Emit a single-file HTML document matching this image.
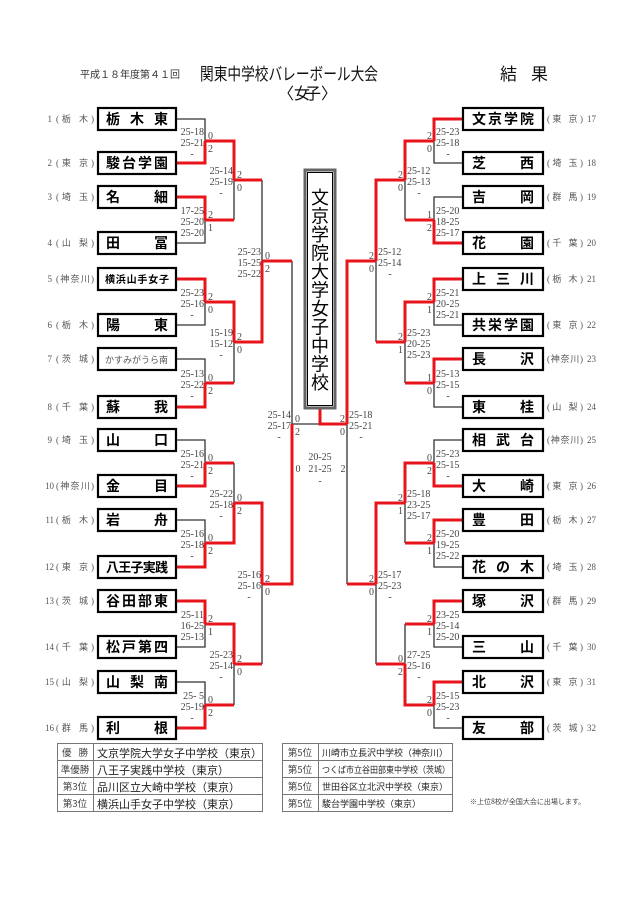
<!DOCTYPE html>
<html><head><meta charset="utf-8"><style>
html,body{margin:0;padding:0;background:#fff;}
svg{display:block;font-family:"Liberation Sans","Noto Sans CJK JP",sans-serif;}
.sc{font-family:"Liberation Serif","Noto Serif CJK SC",serif;font-size:10px;fill:#444;}
.pf{font-size:9px;fill:#555;font-family:"Liberation Serif","Noto Sans CJK JP",serif;}
.nm{font-size:14px;font-weight:bold;fill:#000;font-family:"Noto Sans CJK JP",sans-serif;}
.bx{fill:#fff;stroke:#000;stroke-width:2.2;}
.tb{font-size:11px;fill:#222;font-family:"Noto Sans CJK JP",sans-serif;}
.tl{font-size:9.5px;fill:#444;font-family:"Noto Sans CJK JP",sans-serif;}
</style></head><body>
<svg width="640" height="906" viewBox="0 0 640 906" xmlns="http://www.w3.org/2000/svg">
<rect width="640" height="906" fill="#fff"/>
<!-- header -->
<text x="80" y="78" font-size="10" fill="#333" font-family="Noto Sans CJK JP,sans-serif">平成１８年度第４１回</text>
<text x="200" y="80" font-size="17" fill="#111" font-family="Noto Sans CJK JP,sans-serif" textLength="178" lengthAdjust="spacingAndGlyphs">関東中学校バレーボール大会</text>
<text x="500" y="80" font-size="17" fill="#111" font-family="Noto Sans CJK JP,sans-serif" textLength="48" lengthAdjust="spacing">結果</text>
<text x="278" y="99" font-size="16" fill="#111" font-family="Noto Sans CJK JP,sans-serif">〈女</text>
<text x="305" y="99" font-size="16" fill="#111" font-family="Noto Sans CJK JP,sans-serif">子〉</text>

<!-- lines gray -->
<path fill="none" stroke="#333" stroke-width="1.3" d="M176 119H205V141M176 243H205V220M176 325H205V302M176 359H205V383M176 440H205V463M176 520H205V543M176 647H205V624M176 682H205V705
M234 220V180M234 383V342M234 463V503M234 705V664M262 180V261M262 664V584M292 261V424M292 424H320
M463 163H434V141M463 197H434V220M463 325H434V302M463 407H434V383M463 440H434V463M463 567H434V543M463 647H434V624M463 728H434V705
M405 220V180M405 383V342M405 543V503M405 624V664M376 342V261M376 664V584M347 584V424"/>
<!-- lines red -->
<path fill="none" stroke="#e8141b" stroke-width="3" d="M176 163H205V141M176 197H205V220M176 279H205V302M176 407H205V383M176 486H205V463M176 567H205V543M176 601H205V624M176 728H205V705
M205 141H234V180M205 220H234M205 302H234V342M205 383H234M205 463H234M205 543H234V503M205 624H234V664M205 705H234
M234 180H262M234 342H262V261M234 503H262V584M234 664H262M262 261H292M262 584H292V424
M463 119H434V141M463 243H434V220M463 279H434V302M463 359H434V383M463 486H434V463M463 520H434V543M463 601H434V624M463 682H434V705
M434 141H405V180M434 220H405M434 302H405V342M434 383H405M434 463H405V503M434 543H405M434 624H405M434 705H405V664
M405 180H376V261M405 342H376M405 503H376V584M405 664H376M376 261H347V424M376 584H347M320 408V424H347"/>

<!-- center box -->
<rect x="305" y="170" width="30" height="238" fill="#fff" stroke="#666" stroke-width="3"/>
<rect x="307.5" y="172.5" width="25" height="233" fill="none" stroke="#000" stroke-width="1"/>
<g font-size="18" fill="#000" text-anchor="middle" font-family="Noto Sans CJK JP,sans-serif">
<text x="320" y="204">文</text><text x="320" y="222.5">京</text><text x="320" y="241">学</text><text x="320" y="259.5">院</text><text x="320" y="278">大</text><text x="320" y="296.5">学</text><text x="320" y="315">女</text><text x="320" y="333.5">子</text><text x="320" y="352">中</text><text x="320" y="370.5">学</text><text x="320" y="389">校</text>
</g>

<!-- scores left -->
<g class="sc">
<g transform="translate(205,141)"><text x="-1" y="-6" text-anchor="end">25-18</text><text x="-1" y="5" text-anchor="end">25-21</text><text x="-13" y="16" text-anchor="middle">-</text><text x="3" y="-2">0</text><text x="3" y="11">2</text></g>
<g transform="translate(205,220)"><text x="-1" y="-6" text-anchor="end">17-25</text><text x="-1" y="5" text-anchor="end">25-20</text><text x="-1" y="16" text-anchor="end">25-20</text><text x="3" y="-2">2</text><text x="3" y="11">1</text></g>
<g transform="translate(205,302)"><text x="-1" y="-6" text-anchor="end">25-23</text><text x="-1" y="5" text-anchor="end">25-16</text><text x="-13" y="16" text-anchor="middle">-</text><text x="3" y="-2">2</text><text x="3" y="11">0</text></g>
<g transform="translate(205,383)"><text x="-1" y="-6" text-anchor="end">25-13</text><text x="-1" y="5" text-anchor="end">25-22</text><text x="-13" y="16" text-anchor="middle">-</text><text x="3" y="-2">0</text><text x="3" y="11">2</text></g>
<g transform="translate(205,463)"><text x="-1" y="-6" text-anchor="end">25-16</text><text x="-1" y="5" text-anchor="end">25-21</text><text x="-13" y="16" text-anchor="middle">-</text><text x="3" y="-2">0</text><text x="3" y="11">2</text></g>
<g transform="translate(205,543)"><text x="-1" y="-6" text-anchor="end">25-16</text><text x="-1" y="5" text-anchor="end">25-18</text><text x="-13" y="16" text-anchor="middle">-</text><text x="3" y="-2">0</text><text x="3" y="11">2</text></g>
<g transform="translate(205,624)"><text x="-1" y="-6" text-anchor="end">25-11</text><text x="-1" y="5" text-anchor="end">16-25</text><text x="-1" y="16" text-anchor="end">25-13</text><text x="3" y="-2">2</text><text x="3" y="11">1</text></g>
<g transform="translate(205,705)"><text x="-1" y="-6" text-anchor="end">25- 5</text><text x="-1" y="5" text-anchor="end">25-19</text><text x="-13" y="16" text-anchor="middle">-</text><text x="3" y="-2">0</text><text x="3" y="11">2</text></g>
<g transform="translate(234,180)"><text x="-1" y="-6" text-anchor="end">25-14</text><text x="-1" y="5" text-anchor="end">25-19</text><text x="-13" y="16" text-anchor="middle">-</text><text x="3" y="-2">2</text><text x="3" y="11">0</text></g>
<g transform="translate(234,342)"><text x="-1" y="-6" text-anchor="end">15-19</text><text x="-1" y="5" text-anchor="end">15-12</text><text x="-13" y="16" text-anchor="middle">-</text><text x="3" y="-2">2</text><text x="3" y="11">0</text></g>
<g transform="translate(234,503)"><text x="-1" y="-6" text-anchor="end">25-22</text><text x="-1" y="5" text-anchor="end">25-18</text><text x="-13" y="16" text-anchor="middle">-</text><text x="3" y="-2">0</text><text x="3" y="11">2</text></g>
<g transform="translate(234,664)"><text x="-1" y="-6" text-anchor="end">25-23</text><text x="-1" y="5" text-anchor="end">25-14</text><text x="-13" y="16" text-anchor="middle">-</text><text x="3" y="-2">2</text><text x="3" y="11">0</text></g>
<g transform="translate(262,261)"><text x="-1" y="-6" text-anchor="end">25-23</text><text x="-1" y="5" text-anchor="end">15-25</text><text x="-1" y="16" text-anchor="end">25-22</text><text x="3" y="-2">0</text><text x="3" y="11">2</text></g>
<g transform="translate(262,584)"><text x="-1" y="-6" text-anchor="end">25-16</text><text x="-1" y="5" text-anchor="end">25-16</text><text x="-13" y="16" text-anchor="middle">-</text><text x="3" y="-2">2</text><text x="3" y="11">0</text></g>
<g transform="translate(292,424)"><text x="-1" y="-6" text-anchor="end">25-14</text><text x="-1" y="5" text-anchor="end">25-17</text><text x="-13" y="16" text-anchor="middle">-</text><text x="3" y="-2">0</text><text x="3" y="11">2</text></g>
<text x="320" y="460" text-anchor="middle">20-25</text><text x="320" y="472" text-anchor="middle">21-25</text><text x="320" y="484" text-anchor="middle">-</text><text x="298" y="472" text-anchor="middle">0</text><text x="343" y="472" text-anchor="middle">2</text>
</g>
<!-- scores right -->
<g class="sc">
<g transform="translate(434,141)"><text x="2" y="-6">25-23</text><text x="2" y="5">25-18</text><text x="14" y="16" text-anchor="middle">-</text><text x="-2" y="-2" text-anchor="end">2</text><text x="-2" y="11" text-anchor="end">0</text></g>
<g transform="translate(434,220)"><text x="2" y="-6">25-20</text><text x="2" y="5">18-25</text><text x="2" y="16">25-17</text><text x="-2" y="-2" text-anchor="end">1</text><text x="-2" y="11" text-anchor="end">2</text></g>
<g transform="translate(434,302)"><text x="2" y="-6">25-21</text><text x="2" y="5">20-25</text><text x="2" y="16">25-21</text><text x="-2" y="-2" text-anchor="end">2</text><text x="-2" y="11" text-anchor="end">1</text></g>
<g transform="translate(434,383)"><text x="2" y="-6">25-13</text><text x="2" y="5">25-15</text><text x="14" y="16" text-anchor="middle">-</text><text x="-2" y="-2" text-anchor="end">1</text><text x="-2" y="11" text-anchor="end">0</text></g>
<g transform="translate(434,463)"><text x="2" y="-6">25-23</text><text x="2" y="5">25-15</text><text x="14" y="16" text-anchor="middle">-</text><text x="-2" y="-2" text-anchor="end">0</text><text x="-2" y="11" text-anchor="end">2</text></g>
<g transform="translate(434,543)"><text x="2" y="-6">25-20</text><text x="2" y="5">19-25</text><text x="2" y="16">25-22</text><text x="-2" y="-2" text-anchor="end">2</text><text x="-2" y="11" text-anchor="end">1</text></g>
<g transform="translate(434,624)"><text x="2" y="-6">23-25</text><text x="2" y="5">25-14</text><text x="2" y="16">25-20</text><text x="-2" y="-2" text-anchor="end">2</text><text x="-2" y="11" text-anchor="end">1</text></g>
<g transform="translate(434,705)"><text x="2" y="-6">25-15</text><text x="2" y="5">25-23</text><text x="14" y="16" text-anchor="middle">-</text><text x="-2" y="-2" text-anchor="end">2</text><text x="-2" y="11" text-anchor="end">0</text></g>
<g transform="translate(405,180)"><text x="2" y="-6">25-12</text><text x="2" y="5">25-13</text><text x="14" y="16" text-anchor="middle">-</text><text x="-2" y="-2" text-anchor="end">2</text><text x="-2" y="11" text-anchor="end">0</text></g>
<g transform="translate(405,342)"><text x="2" y="-6">25-23</text><text x="2" y="5">20-25</text><text x="2" y="16">25-23</text><text x="-2" y="-2" text-anchor="end">2</text><text x="-2" y="11" text-anchor="end">1</text></g>
<g transform="translate(405,503)"><text x="2" y="-6">25-18</text><text x="2" y="5">23-25</text><text x="2" y="16">25-17</text><text x="-2" y="-2" text-anchor="end">2</text><text x="-2" y="11" text-anchor="end">1</text></g>
<g transform="translate(405,664)"><text x="2" y="-6">27-25</text><text x="2" y="5">25-16</text><text x="14" y="16" text-anchor="middle">-</text><text x="-2" y="-2" text-anchor="end">0</text><text x="-2" y="11" text-anchor="end">2</text></g>
<g transform="translate(376,261)"><text x="2" y="-6">25-12</text><text x="2" y="5">25-14</text><text x="14" y="16" text-anchor="middle">-</text><text x="-2" y="-2" text-anchor="end">2</text><text x="-2" y="11" text-anchor="end">0</text></g>
<g transform="translate(376,584)"><text x="2" y="-6">25-17</text><text x="2" y="5">25-23</text><text x="14" y="16" text-anchor="middle">-</text><text x="-2" y="-2" text-anchor="end">2</text><text x="-2" y="11" text-anchor="end">0</text></g>
<g transform="translate(347,424)"><text x="2" y="-6">25-18</text><text x="2" y="5">25-21</text><text x="14" y="16" text-anchor="middle">-</text><text x="-2" y="-2" text-anchor="end">2</text><text x="-2" y="11" text-anchor="end">0</text></g>
</g>

<!-- left boxes -->
<g>
<rect class="bx" x="98" y="108" width="78" height="22"/><rect class="bx" x="98" y="152" width="78" height="22"/><rect class="bx" x="98" y="186" width="78" height="22"/><rect class="bx" x="98" y="232" width="78" height="22"/>
<rect class="bx" x="98" y="268" width="78" height="22"/><rect class="bx" x="98" y="314" width="78" height="22"/><rect class="bx" x="98" y="348" width="78" height="22"/><rect class="bx" x="98" y="396" width="78" height="22"/>
<rect class="bx" x="98" y="429" width="78" height="22"/><rect class="bx" x="98" y="475" width="78" height="22"/><rect class="bx" x="98" y="509" width="78" height="22"/><rect class="bx" x="98" y="556" width="78" height="22"/>
<rect class="bx" x="98" y="590" width="78" height="22"/><rect class="bx" x="98" y="636" width="78" height="22"/><rect class="bx" x="98" y="671" width="78" height="22"/><rect class="bx" x="98" y="717" width="78" height="22"/>
</g>
<g class="nm">
<text x="106" y="124" textLength="62" lengthAdjust="spacing">栃木東</text>
<text x="106" y="168" textLength="62" lengthAdjust="spacing">駿台学園</text>
<text x="106" y="202" textLength="62" lengthAdjust="spacing">名細</text>
<text x="106" y="248" textLength="62" lengthAdjust="spacing">田冨</text>
<text x="105" y="283" font-size="10" textLength="64" lengthAdjust="spacing">横浜山手女子</text>
<text x="106" y="330" textLength="62" lengthAdjust="spacing">陽東</text>
<text x="105" y="363" font-size="9" font-weight="normal" fill="#555" textLength="63" lengthAdjust="spacing">かすみがうら南</text>
<text x="106" y="412" textLength="62" lengthAdjust="spacing">蘇我</text>
<text x="106" y="445" textLength="62" lengthAdjust="spacing">山口</text>
<text x="106" y="491" textLength="62" lengthAdjust="spacing">金目</text>
<text x="106" y="525" textLength="62" lengthAdjust="spacing">岩舟</text>
<text x="106" y="572" font-size="13" textLength="62" lengthAdjust="spacing">八王子実践</text>
<text x="106" y="606" textLength="62" lengthAdjust="spacing">谷田部東</text>
<text x="106" y="652" textLength="62" lengthAdjust="spacing">松戸第四</text>
<text x="106" y="687" textLength="62" lengthAdjust="spacing">山梨南</text>
<text x="106" y="733" textLength="62" lengthAdjust="spacing">利根</text>
</g>
<!-- right boxes -->
<g>
<rect class="bx" x="463" y="108" width="80" height="22"/><rect class="bx" x="463" y="152" width="80" height="22"/><rect class="bx" x="463" y="186" width="80" height="22"/><rect class="bx" x="463" y="232" width="80" height="22"/>
<rect class="bx" x="463" y="268" width="80" height="22"/><rect class="bx" x="463" y="314" width="80" height="22"/><rect class="bx" x="463" y="348" width="80" height="22"/><rect class="bx" x="463" y="396" width="80" height="22"/>
<rect class="bx" x="463" y="429" width="80" height="22"/><rect class="bx" x="463" y="475" width="80" height="22"/><rect class="bx" x="463" y="509" width="80" height="22"/><rect class="bx" x="463" y="556" width="80" height="22"/>
<rect class="bx" x="463" y="590" width="80" height="22"/><rect class="bx" x="463" y="636" width="80" height="22"/><rect class="bx" x="463" y="671" width="80" height="22"/><rect class="bx" x="463" y="717" width="80" height="22"/>
</g>
<g class="nm">
<text x="472" y="124" textLength="62" lengthAdjust="spacing">文京学院</text>
<text x="472" y="168" textLength="62" lengthAdjust="spacing">芝西</text>
<text x="472" y="202" textLength="62" lengthAdjust="spacing">吉岡</text>
<text x="472" y="248" textLength="62" lengthAdjust="spacing">花園</text>
<text x="472" y="284" textLength="62" lengthAdjust="spacing">上三川</text>
<text x="472" y="330" textLength="62" lengthAdjust="spacing">共栄学園</text>
<text x="472" y="364" textLength="62" lengthAdjust="spacing">長沢</text>
<text x="472" y="412" textLength="62" lengthAdjust="spacing">東桂</text>
<text x="472" y="445" textLength="62" lengthAdjust="spacing">相武台</text>
<text x="472" y="491" textLength="62" lengthAdjust="spacing">大崎</text>
<text x="472" y="525" textLength="62" lengthAdjust="spacing">豊田</text>
<text x="472" y="572" textLength="62" lengthAdjust="spacing">花の木</text>
<text x="472" y="606" textLength="62" lengthAdjust="spacing">塚沢</text>
<text x="472" y="652" textLength="62" lengthAdjust="spacing">三山</text>
<text x="472" y="687" textLength="62" lengthAdjust="spacing">北沢</text>
<text x="472" y="733" textLength="62" lengthAdjust="spacing">友部</text>
</g>

<!-- seed labels left -->
<g class="pf">
<text x="52" y="122" text-anchor="end">1</text><text x="56" y="122" textLength="38" lengthAdjust="spacing">(栃 木)</text>
<text x="52" y="166" text-anchor="end">2</text><text x="56" y="166" textLength="38" lengthAdjust="spacing">(東 京)</text>
<text x="52" y="200" text-anchor="end">3</text><text x="56" y="200" textLength="38" lengthAdjust="spacing">(埼 玉)</text>
<text x="52" y="246" text-anchor="end">4</text><text x="56" y="246" textLength="38" lengthAdjust="spacing">(山 梨)</text>
<text x="52" y="282" text-anchor="end">5</text><text x="56" y="282" textLength="38" lengthAdjust="spacing">(神奈川)</text>
<text x="52" y="328" text-anchor="end">6</text><text x="56" y="328" textLength="38" lengthAdjust="spacing">(栃 木)</text>
<text x="52" y="362" text-anchor="end">7</text><text x="56" y="362" textLength="38" lengthAdjust="spacing">(茨 城)</text>
<text x="52" y="410" text-anchor="end">8</text><text x="56" y="410" textLength="38" lengthAdjust="spacing">(千 葉)</text>
<text x="52" y="443" text-anchor="end">9</text><text x="56" y="443" textLength="38" lengthAdjust="spacing">(埼 玉)</text>
<text x="54" y="489" text-anchor="end">10</text><text x="56" y="489" textLength="38" lengthAdjust="spacing">(神奈川)</text>
<text x="54" y="523" text-anchor="end">11</text><text x="56" y="523" textLength="38" lengthAdjust="spacing">(栃 木)</text>
<text x="54" y="570" text-anchor="end">12</text><text x="56" y="570" textLength="38" lengthAdjust="spacing">(東 京)</text>
<text x="54" y="604" text-anchor="end">13</text><text x="56" y="604" textLength="38" lengthAdjust="spacing">(茨 城)</text>
<text x="54" y="650" text-anchor="end">14</text><text x="56" y="650" textLength="38" lengthAdjust="spacing">(千 葉)</text>
<text x="54" y="685" text-anchor="end">15</text><text x="56" y="685" textLength="38" lengthAdjust="spacing">(山 梨)</text>
<text x="54" y="731" text-anchor="end">16</text><text x="56" y="731" textLength="38" lengthAdjust="spacing">(群 馬)</text>
</g>
<!-- seed labels right -->
<g class="pf">
<text x="547" y="122" textLength="36" lengthAdjust="spacing">(東 京)</text><text x="587" y="122">17</text>
<text x="547" y="166" textLength="36" lengthAdjust="spacing">(埼 玉)</text><text x="587" y="166">18</text>
<text x="547" y="200" textLength="36" lengthAdjust="spacing">(群 馬)</text><text x="587" y="200">19</text>
<text x="547" y="246" textLength="36" lengthAdjust="spacing">(千 葉)</text><text x="587" y="246">20</text>
<text x="547" y="282" textLength="36" lengthAdjust="spacing">(栃 木)</text><text x="587" y="282">21</text>
<text x="547" y="328" textLength="36" lengthAdjust="spacing">(東 京)</text><text x="587" y="328">22</text>
<text x="547" y="362" textLength="36" lengthAdjust="spacing">(神奈川)</text><text x="587" y="362">23</text>
<text x="547" y="410" textLength="36" lengthAdjust="spacing">(山 梨)</text><text x="587" y="410">24</text>
<text x="547" y="443" textLength="36" lengthAdjust="spacing">(神奈川)</text><text x="587" y="443">25</text>
<text x="547" y="489" textLength="36" lengthAdjust="spacing">(東 京)</text><text x="587" y="489">26</text>
<text x="547" y="523" textLength="36" lengthAdjust="spacing">(栃 木)</text><text x="587" y="523">27</text>
<text x="547" y="570" textLength="36" lengthAdjust="spacing">(埼 玉)</text><text x="587" y="570">28</text>
<text x="547" y="604" textLength="36" lengthAdjust="spacing">(群 馬)</text><text x="587" y="604">29</text>
<text x="547" y="650" textLength="36" lengthAdjust="spacing">(千 葉)</text><text x="587" y="650">30</text>
<text x="547" y="685" textLength="36" lengthAdjust="spacing">(東 京)</text><text x="587" y="685">31</text>
<text x="547" y="731" textLength="36" lengthAdjust="spacing">(茨 城)</text><text x="587" y="731">32</text>
</g>

<!-- results tables -->
<g fill="none" stroke="#777" stroke-width="1">
<rect x="57.5" y="743.5" width="205" height="68"/>
<path d="M93.5 743.5V811.5M57.5 760.5H262.5M57.5 777.5H262.5M57.5 794.5H262.5"/>
<rect x="282.5" y="743.5" width="170" height="68"/>
<path d="M318.5 743.5V811.5M282.5 760.5H452.5M282.5 777.5H452.5M282.5 794.5H452.5"/>
</g>
<g class="tl" text-anchor="middle">
<text x="75" y="756" textLength="26" lengthAdjust="spacing">優勝</text>
<text x="75" y="773">準優勝</text>
<text x="75" y="790">第3位</text>
<text x="75" y="807">第3位</text>
<text x="300" y="756">第5位</text>
<text x="300" y="773">第5位</text>
<text x="300" y="790">第5位</text>
<text x="300" y="807">第5位</text>
</g>
<g class="tb">
<text x="97" y="757">文京学院大学女子中学校（東京）</text>
<text x="97" y="774">八王子実践中学校（東京）</text>
<text x="97" y="791">品川区立大崎中学校（東京）</text>
<text x="97" y="808">横浜山手女子中学校（東京）</text>
</g>
<g class="tb">
<text x="322" y="756" style="font-size:9px">川崎市立長沢中学校（神奈川）</text>
<text x="322" y="773" style="font-size:9px" textLength="128" lengthAdjust="spacingAndGlyphs">つくば市立谷田部東中学校（茨城）</text>
<text x="322" y="790" style="font-size:9px">世田谷区立北沢中学校（東京）</text>
<text x="322" y="807" style="font-size:9px">駿台学園中学校（東京）</text>
</g>
<text x="470" y="804" font-size="7" fill="#444" font-family="Noto Sans CJK JP,sans-serif">※上位8校が全国大会に出場します。</text>
</svg>
</body></html>
